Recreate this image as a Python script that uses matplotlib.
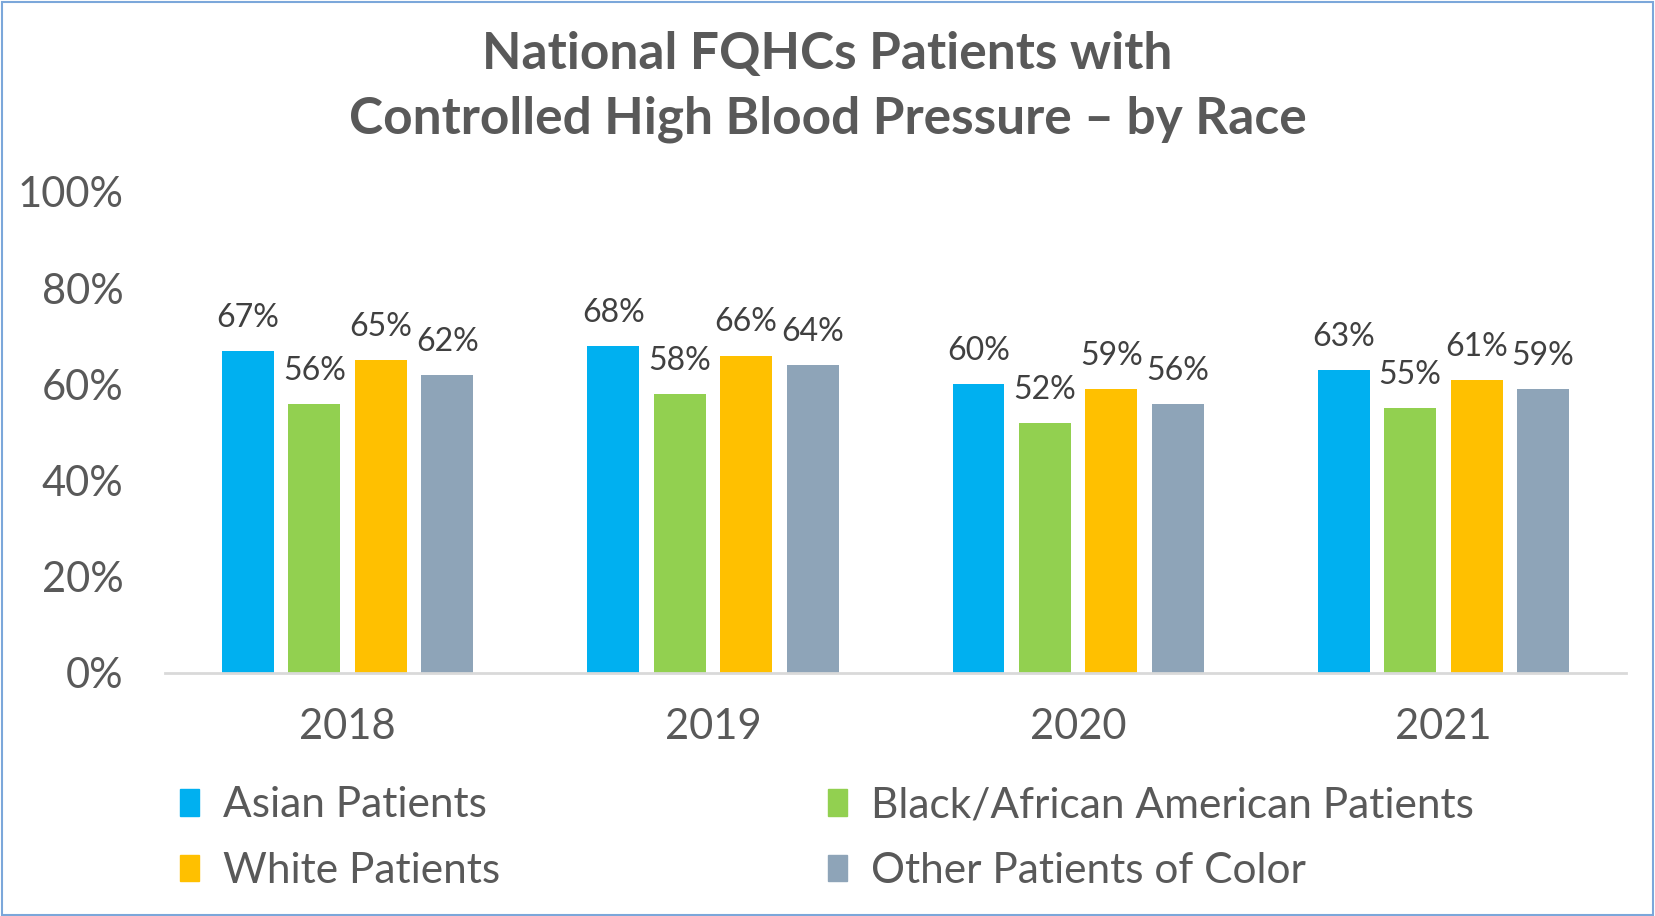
import matplotlib
matplotlib.use('Agg')
import matplotlib.pyplot as plt
import numpy as np
from matplotlib.patches import Rectangle

plt.rcParams['font.family'] = ['Lato', 'DejaVu Sans']

# ── Data ─────────────────────────────────────────────────────────────────────
years = ['2018', '2019', '2020', '2021']
series = ['Asian Patients', 'Black/African American Patients',
          'White Patients', 'Other Patients of Color']
asian = [0.67, 0.68, 0.60, 0.63]
black = [0.56, 0.58, 0.52, 0.55]
white = [0.65, 0.66, 0.59, 0.61]
other = [0.62, 0.64, 0.56, 0.59]
values = [asian, black, white, other]
colors = ['#00B0F0', '#92D050', '#FFC000', '#8EA4B8']

TXT = '#595959'

fig = plt.figure(figsize=(16.55, 9.16), dpi=100)
ax = fig.add_axes([0.0997, 0.2653, 0.8828, 0.5251])

x = np.arange(len(years))
stride, width = 0.182, 0.142
for j, (vals, col) in enumerate(zip(values, colors)):
    pos = x + (j - 1.5) * stride
    bars = ax.bar(pos, vals, width=width, color=col, zorder=2)
    for b, v in zip(bars, vals):
        ax.annotate(f"{v:.0%}", (b.get_x() + b.get_width() / 2, v),
                    xytext=(0, 13), textcoords='offset points',
                    ha='center', va='bottom', fontsize=23, color='#404040')

ax.set_xlim(-0.5, 3.5)
ax.set_ylim(0, 1.0)
ax.set_yticks(np.arange(0, 1.01, 0.2))
ax.set_yticklabels([f"{int(t*100)}%" for t in np.arange(0, 1.01, 0.2)])
ax.set_xticks(x)
ax.set_xticklabels(years)
ax.tick_params(axis='y', length=0, pad=30, labelsize=30, labelcolor=TXT)
ax.tick_params(axis='x', length=0, pad=25, labelsize=30, labelcolor=TXT)
for s in ['top', 'right', 'left']:
    ax.spines[s].set_visible(False)
ax.spines['bottom'].set_color('#D9D9D9')
ax.spines['bottom'].set_linewidth(2)

# title
fig.text(0.5, 0.94, 'National FQHCs Patients with', ha='center', va='center',
         fontsize=37, fontweight='bold', color=TXT)
fig.text(0.5, 0.87, 'Controlled High Blood Pressure \u2013 by Race', ha='center',
         va='center', fontsize=37, fontweight='bold', color=TXT)

# legend
handles = [Rectangle((0, 0), 1, 1, color=c) for c in colors]
order = [0, 2, 1, 3]
leg = fig.legend([handles[i] for i in order], [series[i] for i in order],
                 loc='center left', bbox_to_anchor=(0.109, 0.085), ncol=2,
                 frameon=False, fontsize=30.5, labelcolor=TXT,
                 borderpad=0, borderaxespad=0,
                 handlelength=0.45, handleheight=0.6, handletextpad=0.55,
                 columnspacing=7.75, labelspacing=0.65)

# border
fig.patches.append(Rectangle((0.001, 0.001), 0.998, 0.997, transform=fig.transFigure,
                             fill=False, edgecolor='#7BA7DA', linewidth=1.5))

fig.savefig('out.png', dpi=100)
